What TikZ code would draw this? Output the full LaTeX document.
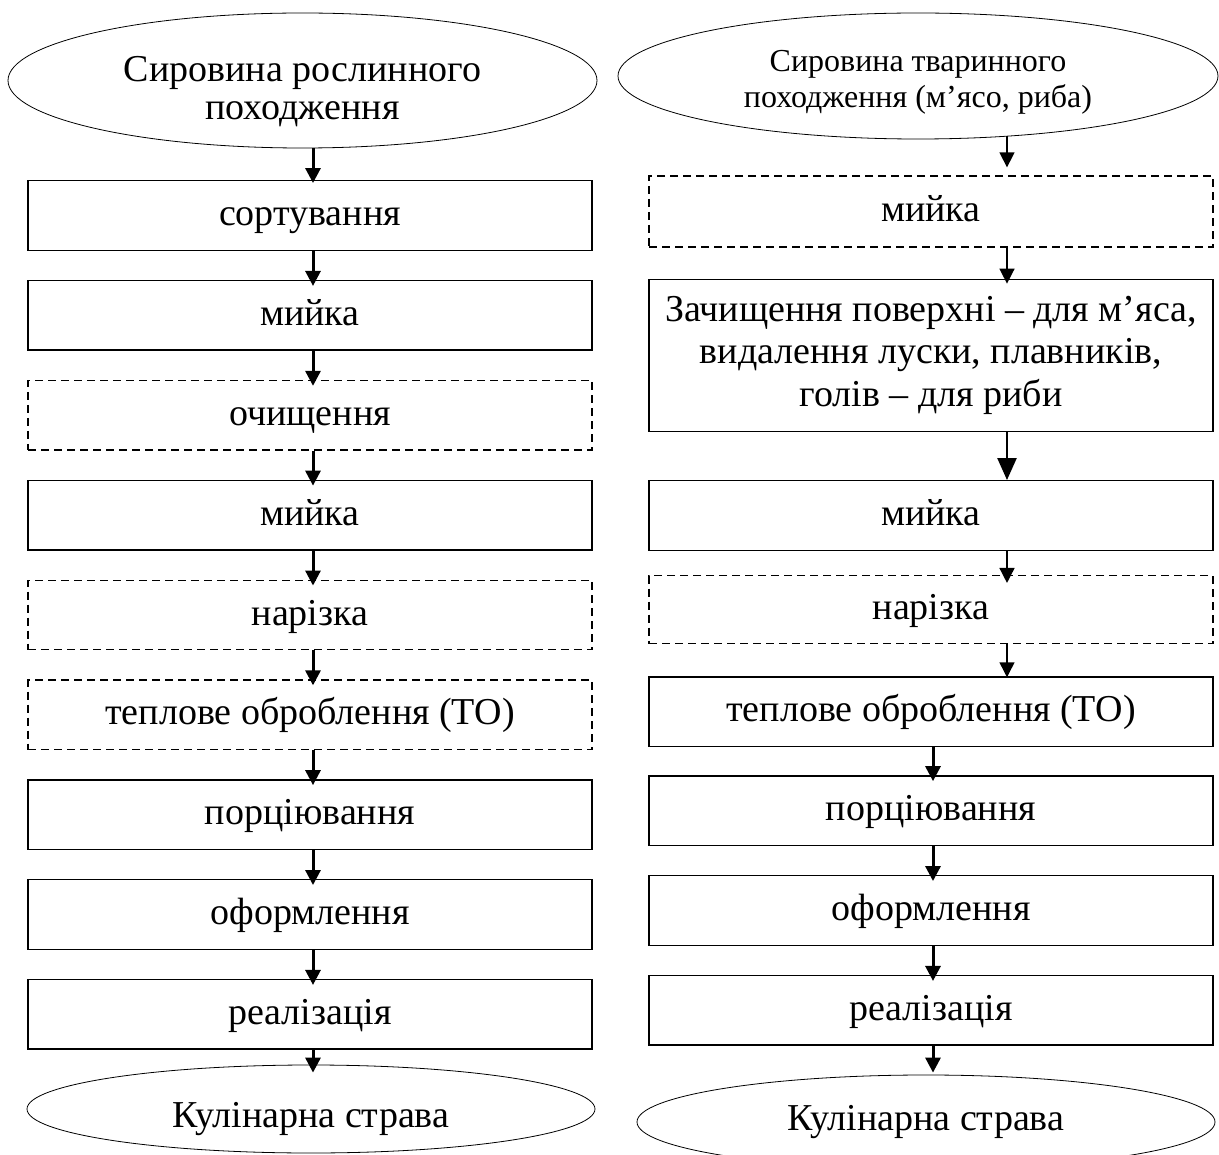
\documentclass[tikz,border=0pt]{standalone}
\usepackage{fontspec}
\setmainfont{Liberation Serif}
\usetikzlibrary{shapes.geometric, arrows.meta, positioning}

\begin{document}
\begin{tikzpicture}[
  x=1pt, y=-1pt,
  node distance=29pt,
  every node/.style={font=\fontsize{38}{42.5}\selectfont},
  boxbase/.style={rectangle, draw, line width=1.4pt, minimum height=69.5pt, minimum width=564pt, inner sep=0pt, align=center},
  stage/.style={boxbase, text height=29.6pt, text depth=9.5pt},
  optstage/.style={stage, dash pattern=on 8pt off 5pt, line width=1.3pt},
  source/.style={ellipse, draw, line width=0.8pt, inner sep=0pt, align=center},
  arrL/.style={-{Triangle[width=15pt,length=15pt]}, line width=3pt},
  arrR/.style={-{Triangle[width=15pt,length=15pt]}, line width=1.5pt},
  arrB/.style={-{Triangle[width=19pt,length=22pt]}, line width=2.4pt}
]
\useasboundingbox (0,0) rectangle (1219,1155);

% Left column: plant raw material
\node[source, minimum width=589pt, minimum height=135pt, text height=85pt, font=\fontsize{38}{38}\selectfont] (rawL) at (302.5,80.5) {Сировина рослинного\\походження};
\node[stage] (sortL) at (310,215.5) {сортування};
\node[stage, below=of sortL] (washL1) {мийка};
\node[optstage, below=of washL1] (cleanL) {очищення};
\node[stage, below=of cleanL] (washL2) {мийка};
\node[optstage, below=of washL2] (cutL) {нарізка};
\node[optstage, below=of cutL] (heatL) {теплове оброблення (ТО)};
\node[stage, below=of heatL] (portL) {порціювання};
\node[stage, below=of portL] (decorL) {оформлення};
\node[stage, below=of decorL] (saleL) {реалізація};
\node[source, minimum width=568pt, minimum height=88pt, text height=45.5pt, text depth=9.5pt] (dishL) at (311,1109) {Кулінарна страва};

% Right column: animal raw material
\node[source, minimum width=600pt, minimum height=126pt, text height=69pt, font=\fontsize{32}{36}\selectfont] (rawR) at (918,76) {Сировина тваринного\\походження (м'ясо, риба)};
\node[optstage, minimum height=71pt] (washR1) at (931,211.5) {мийка};
\node[boxbase, minimum height=152pt, below=31pt of washR1] (trimR) {Зачищення поверхні – для м’яса,\\видалення луски, плавників,\\голів – для риби};
\node[stage, below=48pt of trimR] (washR2) {мийка};
\node[optstage, minimum height=68pt, below=24pt of washR2] (cutR) {нарізка};
\node[stage, below=32pt of cutR] (heatR) {теплове оброблення (ТО)};
\node[stage, below=28pt of heatR] (portR) {порціювання};
\node[stage, below=of portR] (decorR) {оформлення};
\node[stage, below=of decorR] (saleR) {реалізація};
\node[source, minimum width=578pt, minimum height=94pt, text height=25.5pt, text depth=9.5pt] (dishR) at (926,1122) {Кулінарна страва};

% Edges, left
\draw[arrL] ([xshift=10.5pt]rawL.south) -- ([xshift=3pt,yshift=-3pt]sortL.north);
\draw[arrL] ([xshift=3pt]sortL.south) -- ([xshift=3pt,yshift=-6pt]washL1.north);
\draw[arrL] ([xshift=3pt]washL1.south) -- ([xshift=3pt,yshift=-6pt]cleanL.north);
\draw[arrL] ([xshift=3pt]cleanL.south) -- ([xshift=3pt,yshift=-6pt]washL2.north);
\draw[arrL] ([xshift=3pt]washL2.south) -- ([xshift=3pt,yshift=-6pt]cutL.north);
\draw[arrL] ([xshift=3pt]cutL.south) -- ([xshift=3pt,yshift=-6pt]heatL.north);
\draw[arrL] ([xshift=3pt]heatL.south) -- ([xshift=3pt,yshift=-6pt]portL.north);
\draw[arrL] ([xshift=3pt]portL.south) -- ([xshift=3pt,yshift=-6pt]decorL.north);
\draw[arrL] ([xshift=3pt]decorL.south) -- ([xshift=3pt,yshift=-6pt]saleL.north);
\draw[arrL] ([xshift=3pt]saleL.south) -- ([xshift=3pt,yshift=-8pt]saleL.south |- dishL.north);

% Edges, right
\draw[arrR] ([xshift=89pt,yshift=3pt]rawR.south) -- ([xshift=76pt,yshift=8pt]washR1.north);
\draw[arrR] ([xshift=76pt]washR1.south) -- ([xshift=76pt,yshift=-5pt]trimR.north);
\draw[arrB] ([xshift=76pt]trimR.south) -- ([xshift=76pt]washR2.north);
\draw[arrR] ([xshift=76pt]washR2.south) -- ([xshift=76pt,yshift=-8pt]cutR.north);
\draw[arrR] ([xshift=76pt]cutR.south) -- ([xshift=76pt,yshift=-1pt]heatR.north);
\draw[arrL] ([xshift=2pt]heatR.south) -- ([xshift=2pt,yshift=-6pt]portR.north);
\draw[arrL] ([xshift=2pt]portR.south) -- ([xshift=2pt,yshift=-6pt]decorR.north);
\draw[arrL] ([xshift=2pt]decorR.south) -- ([xshift=2pt,yshift=-6pt]saleR.north);
\draw[arrL] ([xshift=2pt]saleR.south) -- ([xshift=2pt,yshift=2pt]saleR.south |- dishR.north);
\end{tikzpicture}
\end{document}
